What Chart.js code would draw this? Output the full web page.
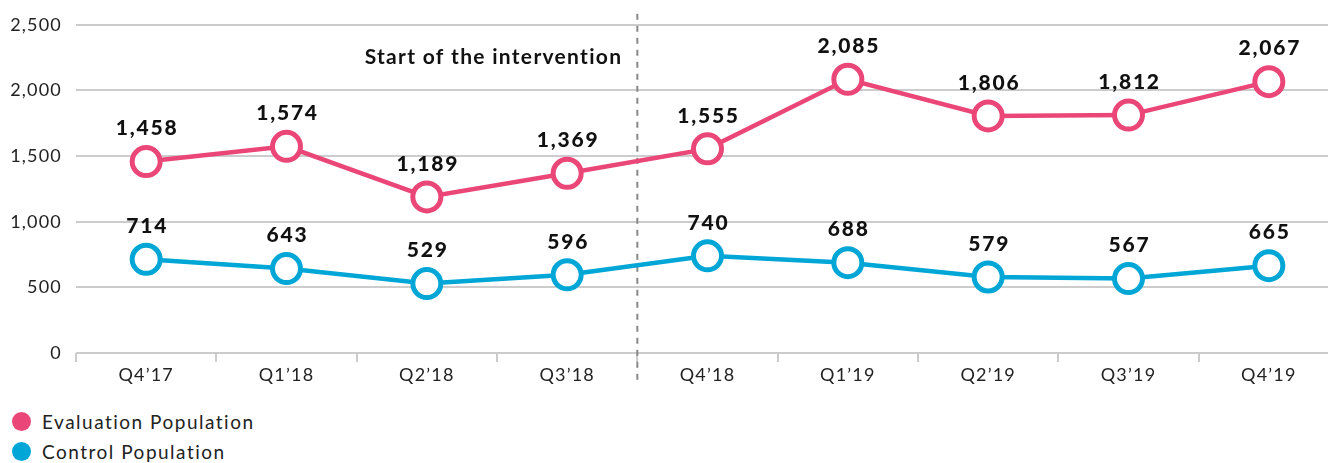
<!DOCTYPE html>
<html>
<head>
<meta charset="utf-8">
<script src="https://cdn.jsdelivr.net/npm/chart.js@4.4.1/dist/chart.umd.min.js"></script>
<style>
  html, body { margin: 0; padding: 0; background: #fff; overflow: hidden; }
  .wrap { position: relative; width: 1358px; height: 400px; }
  .legend { font-family: Lato, sans-serif; font-size: 19px; letter-spacing: 1.5px; color: #222; margin-top: 6px; }
  .legend div { display: flex; align-items: center; height: 30px; }
  .legend span.dot { width: 19px; height: 19px; border-radius: 50%; display: inline-block; margin-left: 12px; margin-right: 11px; }
</style>
</head>
<body>
<div class="wrap"><canvas id="chart" width="1358" height="400"></canvas></div>
<div class="legend" id="legend"></div>
<script>
const quarters = ["Q4\u201917", "Q1\u201918", "Q2\u201918", "Q3\u201918", "Q4\u201918", "Q1\u201919", "Q2\u201919", "Q3\u201919", "Q4\u201919"];
const evaluationPop = [1458, 1574, 1189, 1369, 1555, 2085, 1806, 1812, 2067];
const controlPop = [714, 643, 529, 596, 740, 688, 579, 567, 665];
const seriesNames = ["Evaluation Population", "Control Population"];
const seriesColors = ["#ea4778", "#00a6d6"];
const interventionIndex = 4; // line drawn before this quarter
const interventionText = "Start of the intervention";

const fontFamily = "Lato, sans-serif";

// wider spacing for axis text (reference font is a wide geometric face)
const textSpacing = {
  id: "textSpacing",
  beforeDraw(chart) {
    chart.ctx.letterSpacing = "1.2px";
  }
};

// value labels above each point
const valueLabels = {
  id: "valueLabels",
  afterDatasetsDraw(chart) {
    const ctx = chart.ctx;
    ctx.save();
    ctx.font = "900 21px " + fontFamily;
    ctx.letterSpacing = "1.8px";
    ctx.fillStyle = "#111";
    ctx.textAlign = "center";
    ctx.textBaseline = "middle";
    chart.data.datasets.forEach(function (ds, i) {
      chart.getDatasetMeta(i).data.forEach(function (pt, j) {
        ctx.fillText(ds.data[j].toLocaleString("en-US"), pt.x + 1, pt.y - 33);
      });
    });
    ctx.restore();
  }
};

// dashed line marking the intervention
const interventionLine = {
  id: "interventionLine",
  beforeDatasetsDraw(chart) {
    const x = chart.scales.x;
    const area = chart.chartArea;
    const px = (x.getPixelForValue(interventionIndex - 1) + x.getPixelForValue(interventionIndex)) / 2;
    const ctx = chart.ctx;
    ctx.save();
    ctx.strokeStyle = "#888";
    ctx.lineWidth = 2;
    ctx.setLineDash([6, 6]);
    ctx.beginPath();
    ctx.moveTo(px, area.top - 11);
    ctx.lineTo(px, area.bottom + 29);
    ctx.stroke();
    ctx.setLineDash([]);
    ctx.font = "bold 21px " + fontFamily;
    ctx.letterSpacing = "1.3px";
    ctx.fillStyle = "#111";
    ctx.textAlign = "right";
    ctx.textBaseline = "middle";
    ctx.fillText(interventionText, px - 15, area.top + 32);
    ctx.restore();
  }
};

const datasets = [evaluationPop, controlPop].map(function (vals, i) {
  return {
    label: seriesNames[i],
    data: vals,
    borderColor: seriesColors[i],
    backgroundColor: "#fff",
    pointBackgroundColor: "#fff",
    pointBorderColor: seriesColors[i],
    pointRadius: 14,
    pointHoverRadius: 14,
    pointBorderWidth: 5,
    borderWidth: 4.5,
    tension: 0
  };
});

new Chart(document.getElementById("chart"), {
  type: "line",
  data: { labels: quarters, datasets: datasets },
  options: {
    responsive: false,
    animation: false,
    devicePixelRatio: 1,
    layout: { padding: { top: 23, right: 2, left: 0, bottom: 0 } },
    plugins: {
      legend: { display: false },
      tooltip: { enabled: false }
    },
    scales: {
      x: {
        offset: true,
        border: { display: false },
        grid: { offset: true, drawOnChartArea: false, color: "#ccc", lineWidth: 2, tickLength: 9 },
        ticks: { color: "#222", font: { family: fontFamily, size: 18 }, padding: 2 },
        afterFit: function (scale) { scale.height = 47; }
      },
      y: {
        min: 0,
        max: 2500,
        border: { display: false },
        grid: { color: "#ccc", lineWidth: 2, drawTicks: false },
        ticks: {
          stepSize: 500,
          color: "#222",
          padding: 14,
          font: { family: fontFamily, size: 18 },
          callback: function (v) { return v.toLocaleString("en-US"); }
        },
        afterFit: function (scale) { scale.width = 76; }
      }
    }
  },
  plugins: [textSpacing, interventionLine, valueLabels]
});

// legend stacked below the chart
const legend = document.getElementById("legend");
seriesNames.forEach(function (name, i) {
  const row = document.createElement("div");
  row.innerHTML = '<span class="dot" style="background:' + seriesColors[i] + '"></span>' + name;
  legend.appendChild(row);
});
</script>
</body>
</html>
